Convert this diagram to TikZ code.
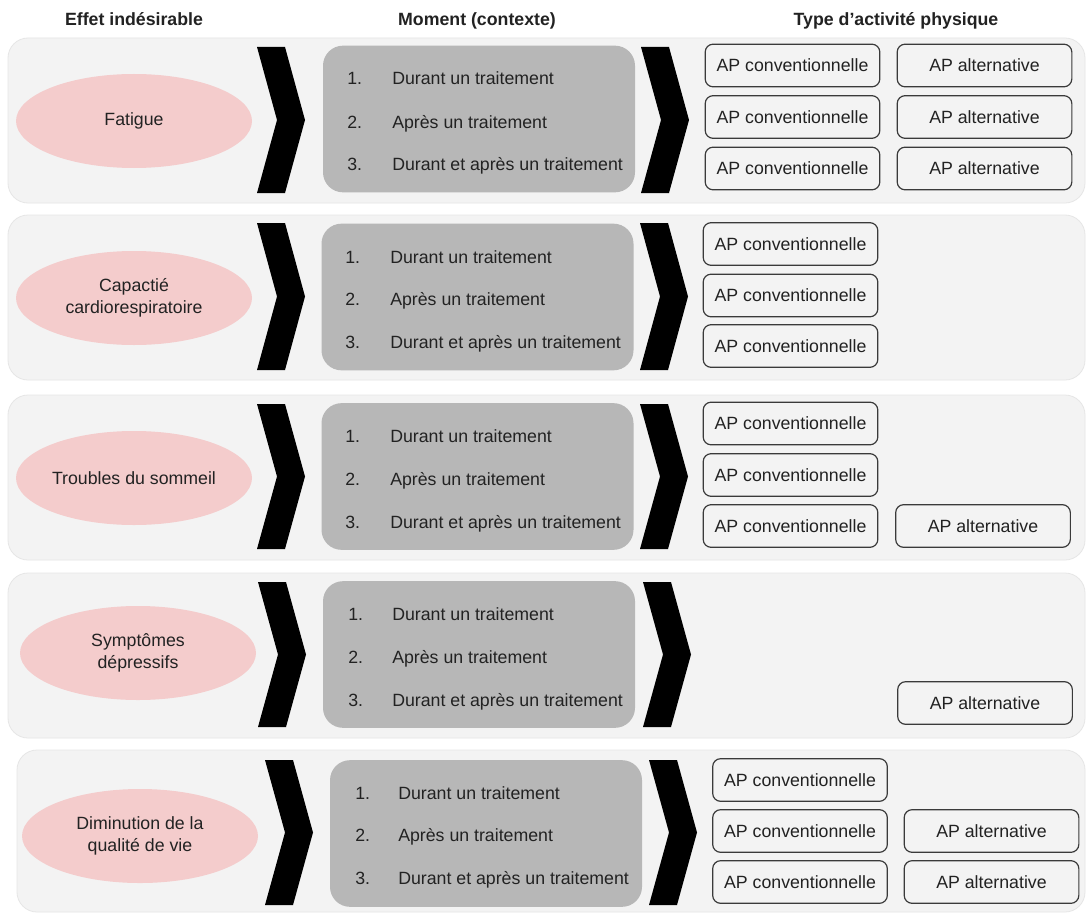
\documentclass[tikz,border=0pt]{standalone}
\usepackage{fontspec}
\setmainfont{Liberation Sans}
\usetikzlibrary{shapes.geometric}

\definecolor{bandgray}{HTML}{F3F3F3}
\definecolor{bandedge}{HTML}{E6E6E6}
\definecolor{boxgray}{HTML}{B7B7B7}
\definecolor{effectpink}{HTML}{F4CCCC}
\definecolor{ink}{HTML}{222222}
\definecolor{apedge}{HTML}{3A3A3A}

\newcommand\labelfont{\fontsize{13.3}{16.3}\selectfont}

\tikzset{
  band/.style={fill=bandgray, draw=bandedge, line width=0.6pt, rounded corners=15pt},
  chev/.style={fill=black},
  effect/.style={ellipse, fill=effectpink, draw=none, inner sep=0pt,
    minimum width=177pt, minimum height=70.5pt, align=center,
    font=\labelfont, text=ink},
  moment/.style={rectangle, fill=boxgray, draw=none, rounded corners=15pt,
    minimum width=234pt, minimum height=110pt, inner sep=0pt},
  item/.style={anchor=base west, inner sep=0pt, font=\labelfont, text=ink},
  apbox/.style={rectangle, draw=apedge, line width=0.9pt, rounded corners=6pt,
    minimum width=131pt, minimum height=32pt, inner sep=0pt,
    font=\labelfont, text=ink},
  header/.style={anchor=base, inner sep=0pt, font=\labelfont\bfseries, text=ink}
}

% chevron: left x, top y, bottom y
\newcommand\chevronat[3]{%
  \fill[chev] (#1,#2) -- ({#1+28},#2) -- ({#1+48},{(#2+#3)/2}) -- ({#1+28},#3)
    -- (#1,#3) -- ({#1+20},{(#2+#3)/2}) -- cycle;}

% three numbered moments: row tag, number x, text x, three baselines
\newcommand\moments[6]{%
  \node[item] (#1n1) at (#2,#4) {1.};
  \node[item] (#1t1) at (#3,#4) {Durant un traitement};
  \node[item] (#1n2) at (#2,#5) {2.};
  \node[item] (#1t2) at (#3,#5) {Après un traitement};
  \node[item] (#1n3) at (#2,#6) {3.};
  \node[item] (#1t3) at (#3,#6) {Durant et après un traitement};}

\begin{document}
\begin{tikzpicture}[x=0.75pt, y=-0.75pt]
\useasboundingbox (0,0) rectangle (1087,913);
\fill[white] (0,0) rectangle (1087,913);

% column headers
\node[header] (h1) at (134,26) {Effet indésirable};
\node[header] (h2) at (477,26) {Moment (contexte)};
\node[header] (h3) at (896,26) {Type d’activité physique};

% background bands
\path[band] (8,38) rectangle (1085,203);
\path[band] (8,215) rectangle (1085,380);
\path[band] (8,395) rectangle (1085,560);
\path[band] (8,573) rectangle (1085,738);
\path[band] (17,750) rectangle (1085,912);

% ---- row 1 : Fatigue
\node[effect] (e1) at (134,121) {Fatigue};
\chevronat{257}{47}{193}
\node[moment] (m1) at (479,119) {};
\moments{r1}{347}{392}{85}{128}{171}
\chevronat{641}{47}{193}
\node[apbox] (r1c1) at (792.5,65.5) {AP conventionnelle};
\node[apbox] (r1c2) at (792.5,117) {AP conventionnelle};
\node[apbox] (r1c3) at (792.5,168.5) {AP conventionnelle};
\node[apbox] (r1a1) at (984.5,65.5) {AP alternative};
\node[apbox] (r1a2) at (984.5,117) {AP alternative};
\node[apbox] (r1a3) at (984.5,168.5) {AP alternative};

% ---- row 2 : Capacité cardiorespiratoire
\node[effect] (e2) at (134,298) {Capactié\\cardiorespiratoire};
\chevronat{257}{223}{370}
\node[moment] (m2) at (477.5,297) {};
\moments{r2}{345}{390}{263}{305}{348}
\chevronat{640}{223}{370}
\node[apbox] (r2c1) at (790.5,244) {AP conventionnelle};
\node[apbox] (r2c2) at (790.5,295.5) {AP conventionnelle};
\node[apbox] (r2c3) at (790.5,346) {AP conventionnelle};

% ---- row 3 : Troubles du sommeil
\node[effect] (e3) at (134,478) {Troubles du sommeil};
\chevronat{257}{404}{549}
\node[moment] (m3) at (477.5,476.5) {};
\moments{r3}{345}{390}{442}{485}{528}
\chevronat{640}{404}{549}
\node[apbox] (r3c1) at (790.5,423.5) {AP conventionnelle};
\node[apbox] (r3c2) at (790.5,475) {AP conventionnelle};
\node[apbox] (r3c3) at (790.5,526) {AP conventionnelle};
\node[apbox] (r3a3) at (983,526) {AP alternative};

% ---- row 4 : Symptômes dépressifs
\node[effect] (e4) at (138,653) {Symptômes\\dépressifs};
\chevronat{258}{582}{727}
\node[moment] (m4) at (479,654.5) {};
\moments{r4}{348}{392}{620}{663}{706}
\chevronat{643}{582}{727}
\node[apbox] (r4a3) at (985,703) {AP alternative};

% ---- row 5 : Diminution de la qualité de vie
\node[effect] (e5) at (140,836) {Diminution de la\\qualité de vie};
\chevronat{265}{760}{905}
\node[moment] (m5) at (486,833.5) {};
\moments{r5}{355}{398}{799}{841}{884}
\chevronat{649}{760}{905}
\node[apbox] (r5c1) at (800,780) {AP conventionnelle};
\node[apbox] (r5c2) at (800,831) {AP conventionnelle};
\node[apbox] (r5c3) at (800,882) {AP conventionnelle};
\node[apbox] (r5a2) at (991.5,831) {AP alternative};
\node[apbox] (r5a3) at (991.5,882) {AP alternative};
\end{tikzpicture}
\end{document}
